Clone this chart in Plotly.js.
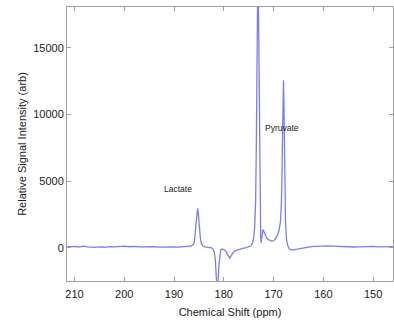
<!DOCTYPE html>
<html>
<head>
<meta charset="utf-8">
<script src="https://cdn.plot.ly/plotly-3.0.1.min.js"></script>
<style>html,body{margin:0;padding:0;background:#fff;}#chart{width:394px;height:324px;}</style>
</head>
<body>
<div id="chart"></div>
<script>
var shiftPpm = [211.5, 211, 210.5, 210, 209.5, 209, 208.5, 208, 207.5, 207, 206.5, 206, 205.5, 205, 204, 203, 202, 201, 200, 199, 198, 197, 196, 195, 194, 193, 192, 191, 190, 189, 188, 187, 186.5, 186, 185.8, 185.6, 185.4, 185.25, 185.1, 184.9, 184.7, 184.5, 184.2, 183.8, 183.3, 182.8, 182.4, 182.1, 181.9, 181.7, 181.5, 181.35, 181.2, 181.0, 180.8, 180.6, 180.3, 180.0, 179.6, 179.3, 179.0, 178.8, 178.6, 178.3, 178.0, 177.5, 177, 176.5, 176, 175.5, 175, 174.6, 174.3, 174.0, 173.8, 173.6, 173.45, 173.3, 173.15, 173.0, 172.85, 172.7, 172.58, 172.5, 172.42, 172.3, 172.15, 172.0, 171.7, 171.4, 171.0, 170.6, 170.3, 170.0, 169.6, 169.2, 168.9, 168.6, 168.4, 168.25, 168.1, 168.0, 167.9, 167.75, 167.6, 167.4, 167.1, 166.8, 166.4, 166, 165.5, 165, 164.5, 164, 163, 162, 161, 160, 159, 158, 157, 156, 155, 154, 153, 152, 151, 150, 149, 148, 147, 146];
var intensity = [60, 80, 50, 90, 70, 40, 90, 110, 60, 30, 50, 20, 40, 60, 30, 80, 60, 90, 110, 70, 100, 60, 80, 50, 70, 40, 60, 30, 50, 40, 60, 80, 130, 300, 800, 1700, 2600, 2950, 2500, 1500, 700, 300, 120, 60, 40, 20, -20, -120, -350, -900, -2000, -3200, -3000, -1400, -400, -150, -100, -150, -250, -500, -750, -780, -650, -450, -300, -200, -130, -80, -40, 0, 40, 120, 300, 700, 1500, 3500, 8000, 16000, 21000, 17000, 9000, 3000, 800, 350, 700, 1200, 1350, 1250, 950, 750, 600, 500, 470, 520, 680, 950, 1300, 2000, 3500, 7000, 11500, 12550, 10500, 5500, 2000, 600, 100, -100, -170, -160, -120, -80, -40, 0, 40, 90, 120, 150, 130, 110, 90, 60, 70, 50, 60, 80, 70, 90, 60, 80, 70, 80];
var peakNames = ["Lactate", "Pyruvate"];
var xTicks = [210, 200, 190, 180, 170, 160, 150];
var yTicks = [0, 5000, 10000, 15000];

var trace = {
  x: shiftPpm, y: intensity, type: 'scatter', mode: 'lines',
  line: {color: 'rgba(100,100,255,0.85)', width: 1.3},
  hoverinfo: 'skip'
};
var axisCommon = {
  showgrid: false, zeroline: false, showline: true, linecolor: '#a0a0a0', linewidth: 1,
  mirror: 'allticks', ticks: 'inside', ticklen: 4, tickcolor: '#a0a0a0', tickwidth: 1,
  tickfont: {family: 'Liberation Sans, Arial, sans-serif', size: 11, color: '#222'}
};
var layout = {
  width: 394, height: 324,
  margin: {l: 67, r: 1, t: 7, b: 43},
  paper_bgcolor: '#fff', plot_bgcolor: '#fff',
  showlegend: false,
  xaxis: Object.assign({}, axisCommon, {
    range: [211.5, 146], tickvals: xTicks, ticktext: xTicks.map(String),
    ticklabelstandoff: 3,
    title: {text: 'Chemical Shift (ppm)', standoff: 9, font: {family: 'Liberation Sans, Arial, sans-serif', size: 11, color: '#222'}}
  }),
  yaxis: Object.assign({}, axisCommon, {
    range: [-2500, 18050], tickvals: yTicks, ticktext: yTicks.map(String),
    title: {text: 'Relative Signal Intensity (arb)', standoff: 4, font: {family: 'Liberation Sans, Arial, sans-serif', size: 11, color: '#222'}}
  }),
  annotations: [
    {x: 189.1, y: 4420, xref: 'x', yref: 'y', text: peakNames[0], showarrow: false,
     font: {family: 'Liberation Sans, Arial, sans-serif', size: 8.5, color: '#222'}},
    {x: 168.3, y: 8950, xref: 'x', yref: 'y', text: peakNames[1], showarrow: false,
     font: {family: 'Liberation Sans, Arial, sans-serif', size: 8.5, color: '#222'}}
  ]
};
Plotly.newPlot('chart', [trace], layout, {displayModeBar: false, staticPlot: true});
</script>
</body>
</html>
